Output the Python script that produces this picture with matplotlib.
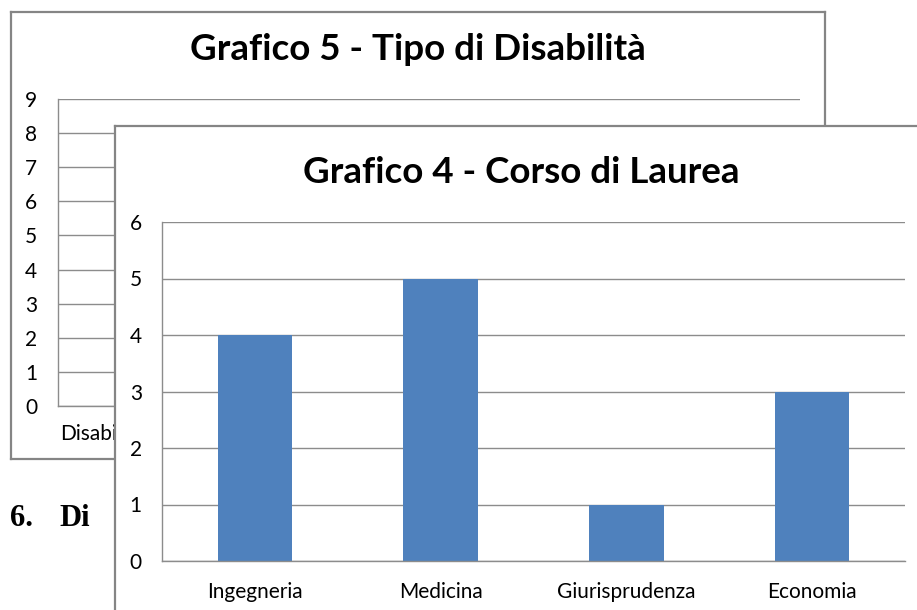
import matplotlib
matplotlib.use("Agg")
import matplotlib.pyplot as plt

W, H = 917, 610
plt.rcParams['font.family'] = ['Lato', 'DejaVu Sans']

# --- data ---
front_title = "Grafico 4 - Corso di Laurea"
front_categories = ["Ingegneria", "Medicina", "Giurisprudenza", "Economia"]
front_values = [4, 5, 1, 3]
front_yticks = [0, 1, 2, 3, 4, 5, 6]

back_title = "Grafico 5 - Tipo di Disabilità"
back_yticks = [0, 1, 2, 3, 4, 5, 6, 7, 8, 9]
back_first_label = "Disabilità"

body_text = ["6.", "Di"]

BAR = "#4F81BD"
GRID = "#8C8C8C"
FRAME = "#858585"


def rect(l, t, r, b):
    return [l / W, 1 - b / H, (r - l) / W, (b - t) / H]


fig = plt.figure(figsize=(W / 100, H / 100), dpi=100)
fig.patch.set_facecolor("white")


def frame_axes(box, z):
    ax = fig.add_axes(rect(*box), zorder=z)
    ax.set_xticks([]); ax.set_yticks([])
    ax.set_facecolor("white")
    for s in ax.spines.values():
        s.set_color(FRAME)
        s.set_linewidth(1.6)
    return ax


def style_plot(ax, yticks, ypad):
    ax.set_facecolor("none")
    ax.set_ylim(yticks[0], yticks[-1])
    ax.set_yticks(yticks)
    ax.grid(axis="y", color=GRID, linewidth=1.0)
    ax.set_axisbelow(True)
    for k in ("top", "right"):
        ax.spines[k].set_visible(False)
    for k in ("left", "bottom"):
        ax.spines[k].set_color(GRID)
        ax.spines[k].set_linewidth(1.0)
    ax.tick_params(axis="both", length=0, labelsize=15, colors="#000000")
    ax.tick_params(axis="y", pad=ypad)
    ax.tick_params(axis="x", pad=15)


# ---- back chart (Grafico 5) ----
bf = frame_axes((11, 12, 825, 459), 0)
bf.text(0.5, (459 - 50) / (459 - 12), back_title, transform=bf.transAxes,
        ha="center", va="center", fontsize=26.5, fontweight="bold")
bax = fig.add_axes(rect(58, 99, 800, 406), zorder=1)
style_plot(bax, back_yticks, 15)
bax.set_xlim(0, 1)
bax.set_xticks([0.003])
bax.set_xticklabels([back_first_label], ha="left")
bax.tick_params(axis="x", pad=13)

# ---- body text ----
fig.text(10 / W, 1 - 526 / H, body_text[0], fontsize=22, fontweight="bold",
         family="Liberation Serif", va="baseline", ha="left", zorder=0.5)
fig.text(59 / W, 1 - 526 / H, body_text[1], fontsize=22, fontweight="bold",
         family="Liberation Serif", va="baseline", ha="left", zorder=0.5)

# ---- front chart (Grafico 4) ----
ff = frame_axes((115, 126, 935, 640), 2)
ff.text((521 - 115) / (935 - 115), 1 - (172 - 126) / (640 - 126), front_title,
        transform=ff.transAxes, ha="center", va="center", fontsize=26.5,
        fontweight="bold")
fax = fig.add_axes(rect(162, 222, 905, 561), zorder=3)
style_plot(fax, front_yticks, 14.5)
x = list(range(len(front_categories)))
fax.bar(x, front_values, width=0.4, color=BAR, zorder=2)
fax.set_xlim(-0.5, len(front_categories) - 0.5)
fax.set_xticks(x)
fax.set_xticklabels(front_categories)

fig.savefig("out.png", dpi=100)
